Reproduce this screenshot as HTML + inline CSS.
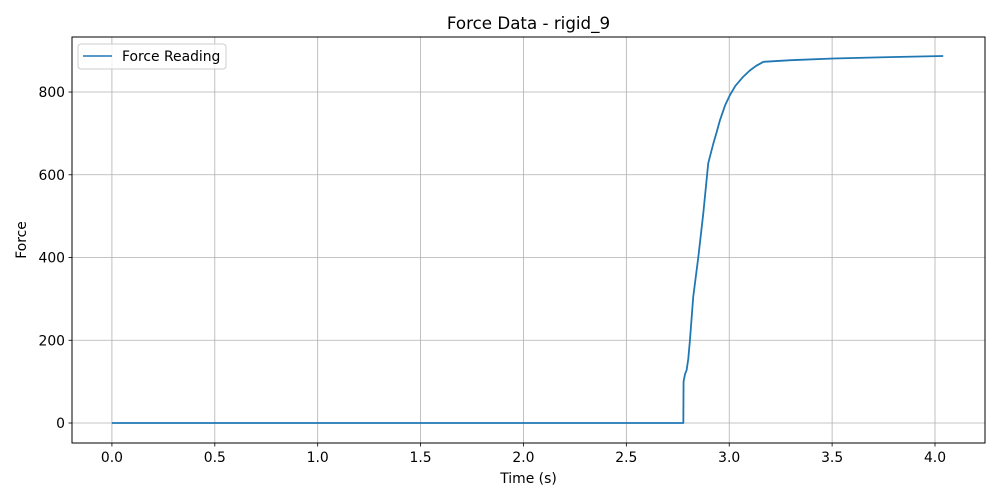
<!DOCTYPE html>
<html><head><meta charset="utf-8"><style>
html,body{margin:0;padding:0;background:#fff;}
svg{display:block;font-family:"DejaVu Sans","Liberation Sans",sans-serif;}
</style></head><body>
<svg id="chart" width="1000" height="500">
<rect width="1000" height="500" fill="#fff"/>
<g id="grid"></g>
<g id="series"></g>
<rect id="frame" x="72" y="37" width="913" height="406" fill="none" stroke="#000" stroke-width="1"/>
<g id="axes"></g>
<text x="528.5" y="29" text-anchor="middle" font-size="16.7" fill="#000">Force Data - rigid_9</text>
<text x="528.5" y="483" text-anchor="middle" font-size="13.9" fill="#000">Time (s)</text>
<text transform="translate(26,240) rotate(-90)" text-anchor="middle" font-size="13.9" fill="#000">Force</text>
<g>
<rect x="78" y="44" width="148" height="25" rx="3" fill="#fff" fill-opacity="0.8" stroke="#ccc"/>
<line x1="83" y1="56" x2="112" y2="56" stroke="#1f77b4" stroke-width="1.5"/>
<text x="122" y="61" font-size="13.9" fill="#000">Force Reading</text>
</g>
</svg>
<script>
const timeValues = [0.0, 2.777, 2.778, 2.785, 2.793, 2.801, 2.809, 2.825, 2.850, 2.874, 2.898, 2.923, 2.94, 2.955, 2.98, 3.004, 3.03, 3.068, 3.10, 3.13, 3.166, 3.30, 3.506, 3.75, 4.04];
const forceValues = [0, 0, 100, 118, 128, 155, 200, 305, 402, 507, 628, 676, 705, 732, 768, 793, 815, 837, 852, 863, 873, 877, 881, 884, 887];
const xTicks = [0.0, 0.5, 1.0, 1.5, 2.0, 2.5, 3.0, 3.5, 4.0];
const xTickLabels = ["0.0","0.5","1.0","1.5","2.0","2.5","3.0","3.5","4.0"];
const yTicks = [0, 200, 400, 600, 800];
const yTickLabels = ["0","200","400","600","800"];

const L=72,R=985,T=37,B=443;
const xMin=-0.194,xMax=4.243,yMin=-48.3,yMax=933;
function xs(v){return L+(v-xMin)/(xMax-xMin)*(R-L);}
function ys(v){return B-(v-yMin)/(yMax-yMin)*(B-T);}
const NS="http://www.w3.org/2000/svg";
const grid=document.getElementById('grid'),axes=document.getElementById('axes'),series=document.getElementById('series');
function mk(tag,attrs,parent){const e=document.createElementNS(NS,tag);for(const k in attrs)e.setAttribute(k,attrs[k]);parent.appendChild(e);return e;}
xTicks.forEach((t,i)=>{
  const x=xs(t);
  const g=mk('line',{x1:x,x2:x,y1:T,y2:B,stroke:'#b0b0b0','stroke-width':0.8},grid);
  
  
  const tk=mk('line',{x1:x,x2:x,y1:B,y2:B+3.5,stroke:'#000','stroke-width':0.8},axes);
  
  
  const tx=mk('text',{x:x,y:B+19,'text-anchor':'middle','font-size':13.9,fill:'#000'},axes);
  tx.textContent=xTickLabels[i];
  
  
});
yTicks.forEach((t,i)=>{
  const y=ys(t);
  const g=mk('line',{x1:L,x2:R,y1:y,y2:y,stroke:'#b0b0b0','stroke-width':0.8},grid);
  
  
  const tk=mk('line',{x1:L-3.5,x2:L,y1:y,y2:y,stroke:'#000','stroke-width':0.8},axes);
  
  
  const tx=mk('text',{x:L-7,y:y+5,'text-anchor':'end','font-size':13.9,fill:'#000'},axes);
  tx.textContent=yTickLabels[i];
  
  
});
const pts=timeValues.map((t,i)=>xs(t).toFixed(2)+','+ys(forceValues[i]).toFixed(2)).join(' ');
const line=mk('polyline',{points:pts,fill:'none',stroke:'#1f77b4','stroke-width':1.8,'stroke-linejoin':'round'},series);


</script>
</body></html>
